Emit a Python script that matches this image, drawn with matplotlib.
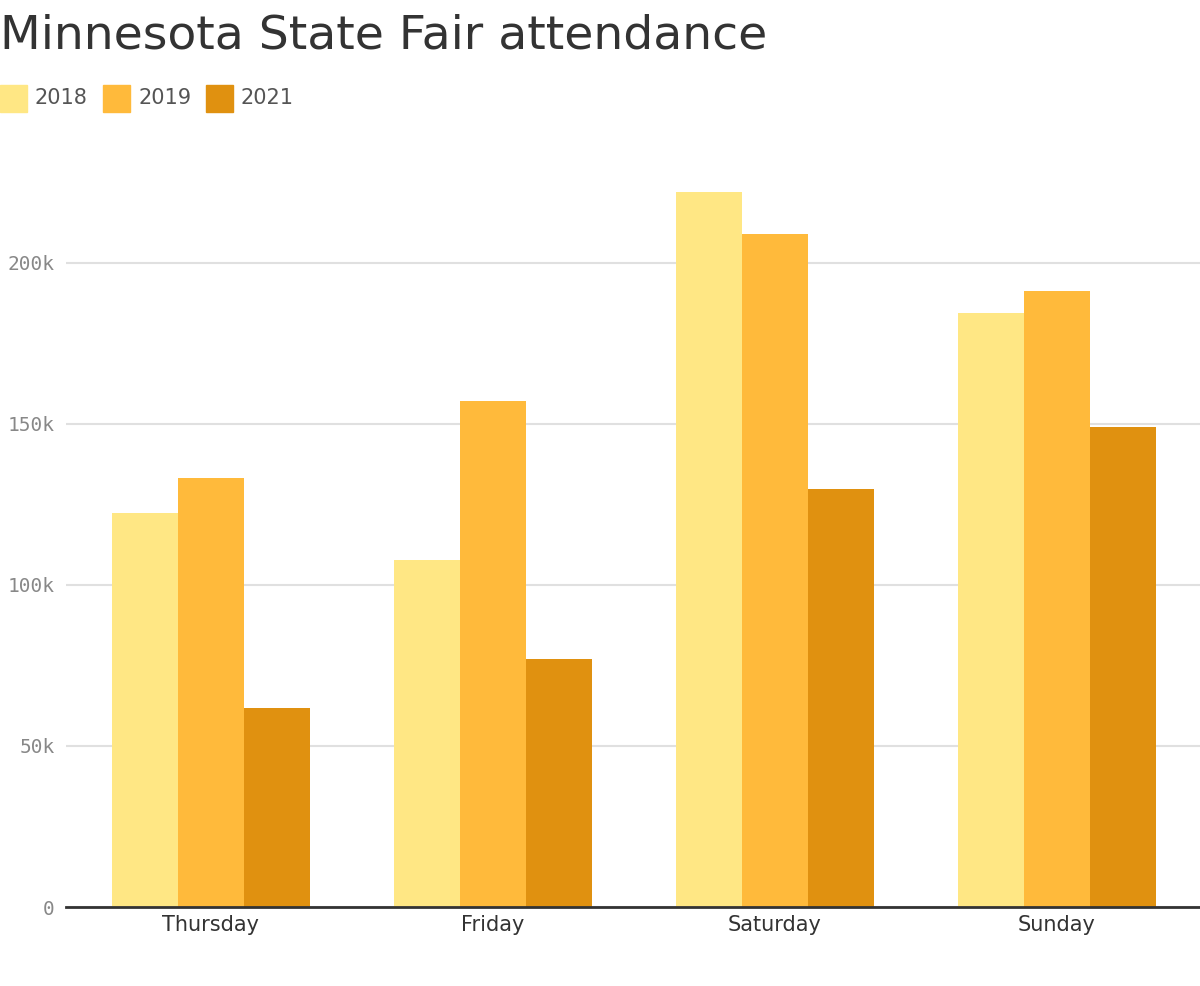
import numpy as np
import matplotlib
matplotlib.use("Agg")
from matplotlib import pyplot as plt
from matplotlib.patches import Rectangle

days = ["Thursday", "Friday", "Saturday", "Sunday"]
years = ["2018", "2019", "2021"]
att_2018 = [122.4, 107.8, 222.0, 184.5]
att_2019 = [133.2, 157.1, 209.0, 191.3]
att_2021 = [61.8, 77.0, 129.8, 149.1]
colors = ["#FFE784", "#FFBA3B", "#E09110"]

fig = plt.figure(figsize=(12, 9.86), dpi=100)
ax = fig.add_axes([0.055, 0.0801, 0.945, 0.768])

x = np.arange(len(days))
w = 0.234
for i, vals in enumerate([att_2018, att_2019, att_2021]):
    ax.bar(x + (i - 1) * w, vals, width=w, color=colors[i], zorder=2)

ax.set_xlim(-0.514, 3.507)
ax.set_ylim(0, 235)
ax.set_yticks([0, 50, 100, 150, 200])
ax.set_yticklabels(["0", "50k", "100k", "150k", "200k"],
                   family="DejaVu Sans Mono", fontsize=14, color="#888888")
ax.set_xticks(x)
ax.set_xticklabels(days, fontsize=15, color="#333333")
ax.tick_params(axis="both", length=0)
ax.tick_params(axis="y", pad=8)
ax.tick_params(axis="x", pad=6)
ax.grid(axis="y", color="#e0e0e0", linewidth=1.5, zorder=0)
for s in ["top", "right", "left"]:
    ax.spines[s].set_visible(False)
ax.spines["bottom"].set_color("#333333")
ax.spines["bottom"].set_linewidth(2)
ax.spines["bottom"].set_zorder(3)

fig.text(0.0, 0.963, "Minnesota State Fair attendance", fontsize=34,
         color="#333333", va="center", ha="left")

# legend
lx = 0
for yr, c in zip(years, colors):
    fig.patches.append(Rectangle((lx / 1200, 1 - 112 / 986), 27 / 1200, 27 / 986,
                                 transform=fig.transFigure, color=c))
    fig.text((lx + 35) / 1200, 1 - 98.5 / 986, yr, fontsize=15,
             color="#555555", va="center", ha="left")
    lx += 103

fig.savefig("out.png", dpi=100)
